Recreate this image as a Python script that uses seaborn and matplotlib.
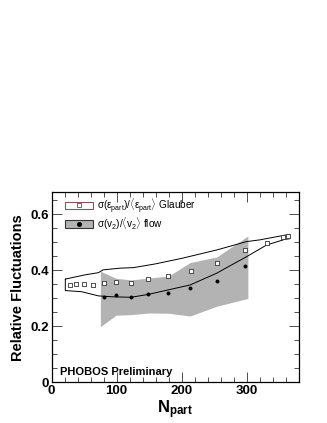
import matplotlib
matplotlib.use("Agg")
import matplotlib.pyplot as plt
import seaborn as sns
import numpy as np
import pandas as pd
from matplotlib.patches import Patch
from matplotlib.lines import Line2D
from matplotlib.ticker import MultipleLocator

# ---- data ----
glauber_npart = [28, 37, 49, 63, 80, 99, 122, 148, 179, 214, 254, 297, 331, 356, 363]
glauber_ratio = [0.349, 0.351, 0.353, 0.349, 0.356, 0.359, 0.356, 0.368, 0.379,
                 0.399, 0.428, 0.473, 0.499, 0.518, 0.522]
glauber_up_x = [21, 51, 72, 79, 105, 126, 159, 200, 254, 300, 320, 366]
glauber_up_y = [0.369, 0.384, 0.392, 0.402, 0.408, 0.410, 0.423, 0.443, 0.473, 0.503, 0.509, 0.529]
glauber_lo_x = [21, 46, 72, 92, 122, 148, 213, 254, 274, 300, 331, 359, 366]
glauber_lo_y = [0.328, 0.324, 0.309, 0.306, 0.304, 0.314, 0.348, 0.390, 0.416, 0.449, 0.491, 0.511, 0.513]

flow_npart = [80, 99, 122, 148, 179, 213, 254, 297]
flow_ratio = [0.304, 0.312, 0.306, 0.314, 0.319, 0.338, 0.363, 0.417]
flow_band_x = [75, 99, 122, 150, 180, 213, 254, 302]
flow_band_up = [0.397, 0.372, 0.366, 0.373, 0.380, 0.428, 0.448, 0.523]
flow_band_lo = [0.199, 0.240, 0.242, 0.248, 0.247, 0.237, 0.272, 0.300]

xticks = [0, 100, 200, 300]
yticks = [0, 0.2, 0.4, 0.6]
ytick_labels = ["0", "0.2", "0.4", "0.6"]

sns.set_style("ticks")
plt.rcParams['font.family'] = ['Liberation Sans', 'DejaVu Sans']
plt.rcParams['text.color'] = 'black'
plt.rcParams['axes.labelcolor'] = 'black'
plt.rcParams['xtick.color'] = 'black'
plt.rcParams['ytick.color'] = 'black'
plt.rcParams['mathtext.fontset'] = 'custom'
plt.rcParams['mathtext.rm'] = 'Liberation Sans'
plt.rcParams['mathtext.it'] = 'Liberation Sans'
plt.rcParams['mathtext.bf'] = 'Liberation Sans:bold'

fig = plt.figure(figsize=(3.27, 4.23), dpi=100)
ax = fig.add_axes([0.158, 0.096, 0.757, 0.450])

# flow band
ax.fill_between(flow_band_x, flow_band_lo, flow_band_up, color='#b3b3b3', lw=0, zorder=1)

# glauber outline (closed polygon)
poly_x = list(glauber_up_x) + list(glauber_lo_x[::-1]) + [glauber_up_x[0]]
poly_y = list(glauber_up_y) + list(glauber_lo_y[::-1]) + [glauber_up_y[0]]
poly = pd.DataFrame({"x": poly_x, "y": poly_y})
sns.lineplot(data=poly, x="x", y="y", sort=False, estimator=None, color='black',
             lw=0.7, ax=ax, zorder=2)

gdf = pd.DataFrame({"npart": glauber_npart, "ratio": glauber_ratio})
fdf = pd.DataFrame({"npart": flow_npart, "ratio": flow_ratio})
sns.scatterplot(data=gdf, x="npart", y="ratio", marker='s', s=9, facecolor='white',
                edgecolor='#333333', linewidth=0.6, ax=ax, zorder=3)
sns.scatterplot(data=fdf, x="npart", y="ratio", marker='o', s=8, color='black',
                edgecolor='black', linewidth=0, ax=ax, zorder=3)

ax.set_xlim(0, 381)
ax.set_ylim(0, 0.68)
ax.set_xticks(xticks)
ax.set_xticklabels([str(t) for t in xticks], fontweight='bold', fontsize=9.5)
ax.set_yticks(yticks)
ax.set_yticklabels(ytick_labels, fontweight='bold', fontsize=9.5)
ax.xaxis.set_minor_locator(MultipleLocator(20))
ax.yaxis.set_minor_locator(MultipleLocator(0.05))
ax.tick_params(which='both', direction='in', top=True, right=True, width=0.6, color='#333333')
ax.tick_params(which='major', length=7, pad=2)
ax.tick_params(which='minor', length=3.5)
for s in ax.spines.values():
    s.set_linewidth(0.9)
    s.set_color('black')

ax.set_xlabel(r'$\mathbf{N_{part}}$', fontsize=12, labelpad=1)
ax.set_ylabel('Relative Fluctuations', fontsize=10.5, fontweight='bold', labelpad=4)

ax.text(13, 0.02, 'PHOBOS Preliminary', fontsize=8, fontweight='bold', ha='left', va='bottom')

h1 = (Patch(facecolor='white', edgecolor='#7a5a5a', lw=0.8),
      Line2D([], [], marker='s', ls='none', markersize=2.8, markerfacecolor='white',
             markeredgecolor='#333333', markeredgewidth=0.5))
h2 = (Patch(facecolor='#b3b3b3', edgecolor='#333333', lw=0.8),
      Line2D([], [], marker='o', ls='none', markersize=2.6, color='black'))
leg = ax.legend([h1, h2],
                [r'$\sigma(\epsilon_{part})/\langle\epsilon_{part}\rangle$ Glauber',
                 r'$\sigma(v_2)/\langle v_2\rangle$ flow'],
                loc='upper left', bbox_to_anchor=(0.03, 1.01), frameon=False,
                fontsize=7.2, handlelength=2.8, handleheight=0.8, labelspacing=0.05,
                handletextpad=0.4, borderaxespad=0.2)

fig.savefig('out.png', dpi=100)
